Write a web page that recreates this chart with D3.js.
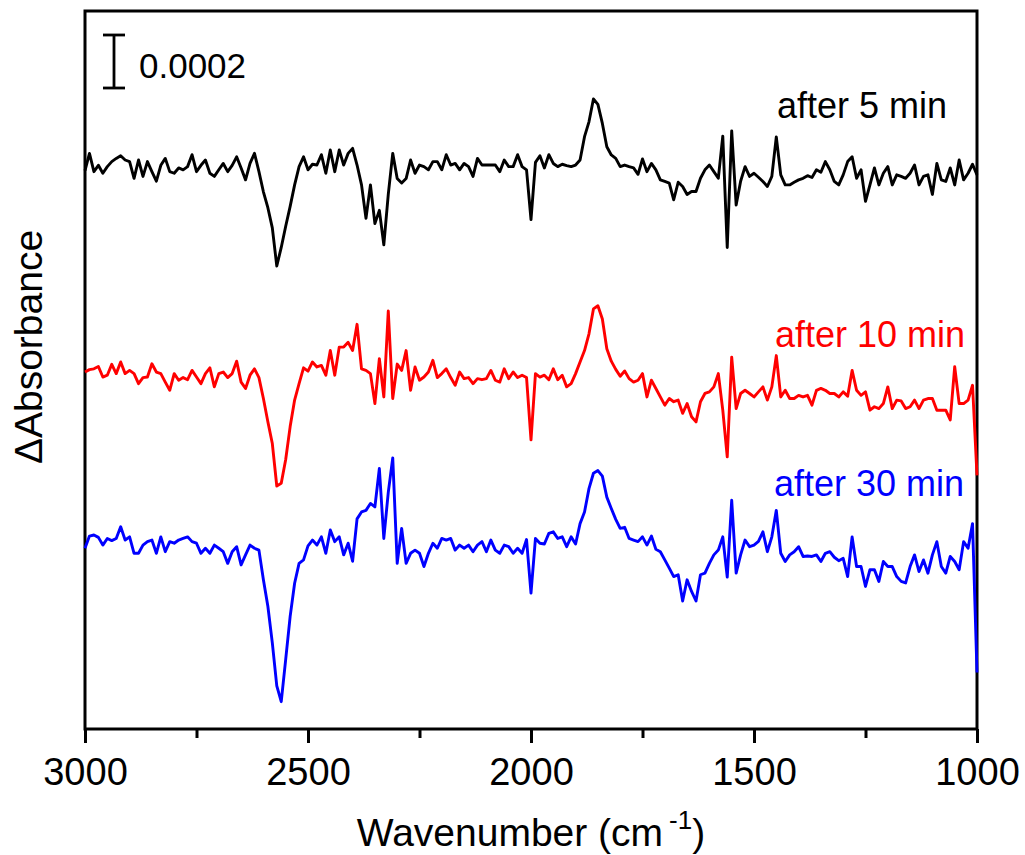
<!DOCTYPE html>
<html>
<head>
<meta charset="utf-8">
<script src="https://cdn.jsdelivr.net/npm/d3@7"></script>
<style>
  body { margin: 0; background: #fff; }
  svg { display: block; }
  text { font-family: "Liberation Sans", Arial, sans-serif; fill: #000; }
</style>
</head>
<body>
<div id="chart"></div>
<script>
// sampling grid of the spectra (cm-1), high to low
const wavenumbers = d3.range(3000, 999, -10);

// ΔA x 1e5, one value per wavenumber
const after5 = [
  -1, 5.5, -1.4, 1, -2, 0.5, 2.4, 3.6, 4.6, 3, 2.4, -3.9, 3, -3.2, 2.4, -1.4, -5, 1, 3.6, -1.4,
  -2, 0, -0.7, 0.5, 5, -1.4, 1, 3, -2, -3.2, -0.7, 1.7, -1.4, 1, 4.2, 0, -4.5, 1.7, 5.5, -1.4,
  -9, -15, -22.6, -37, -30, -22, -14.5, -6.4, 0.5, 4.2, -0.7, 1.4, 1.1, 5, -2, 6.8, -1.4, 6.8, 1.1, 5.5,
  7.4, 1.1, -6.4, -19, -6.4, -21, -16, -29, -10, 5.5, -4, -5.7, -4, 3, -2, 1.1, 0.5, -0.7, 2.4, 2.4,
  -0.7, 5, 1.1, 1.7, -0.7, 1.7, 0.5, -3.2, 3.6, 1.1, 1.1, 1.1, 1.1, -1.4, 3, 0.5, 0.5, 5, 0.5, -0.7,
  -19.5, 2.1, 4.6, 0, 5, 1.7, 0.5, 1.4, 0.9, 0.5, 1.1, 3, 11.8, 17.4, 26, 24, 16.8, 8, 4.9, 3.6,
  0.5, 1.1, 0.5, 0, -2.4, 3.4, -1.4, 1.7, -0.7, -4.5, -5.1, -5.7, -12, -5.4, -7, -10, -8.9, -8.9, -3.9, -0.7,
  1.1, -1.4, -3.9, 12, -30, 14, -14, -5, 0.5, -3.2, -2, -3.5, -5.1, -7, -3.2, 11.7, -2.6, -6.4, -6.4, -5.4,
  -4.5, -3.9, -2.9, -3.6, -0.7, -1.6, 2.4, -0.7, -5.1, -6.4, -2.6, 2.4, 4.2, -3.9, -0.7, -12.6, -6.4, 0, -6.4, -2,
  0.5, -6.4, -2.6, -3.2, -3.9, -2, 1.1, -6.4, -3.2, -2.6, -10, 1.7, -4.5, -5.1, 0, -6.4, 3, -4.5, -2, 1.4,
  -2.6
];

const after10 = [
  0, 0.9, 1.2, 2.1, -1.9, -1.2, 2.9, -0.6, 3.8, -0.6, 0.6, -0.6, -4.4, -2.1, -1.9, 3.1, 0, -0.6, -3.8, -6.9,
  -0.6, -3.1, -2.1, -2.9, 0.6, -1.9, -4.4, -0.6, 1.6, -5.6, -0.6, 0, -2.1, -0.6, 4.1, -3.8, -6.2, -1.2, 1.2, -2.1,
  -10, -18.8, -27, -43, -42, -33, -20.6, -10.6, -4.4, 1.6, 0.3, 3.8, 1.9, 2.5, -1.2, 8.1, -1.2, 9.4, 9.4, 11.2,
  8.1, 18, 1.2, 0.6, -0.6, -11.9, 5, -9.4, 23, -10, 3, 0.6, 8.1, -6.9, 1.9, -3.1, -1.9, 0, 4.4, -2.1,
  -0.6, 1.2, -2.1, -5, 0, -2.5, -2.1, -4.4, -2.5, -2.9, -2.5, 0.6, -3.1, -3.8, 1.2, -2.5, 0, -2.1, -1.2, -2.1,
  -25.6, -0.6, -1.9, -1.2, -2.9, 1.2, -2.9, -1.2, -5.6, -4.4, -0.6, 3.8, 8.1, 14.4, 23.8, 25, 20, 8.8, 4.1, 1,
  -1.6, 0.4, -2.5, -3.8, -3.1, -0.6, -9.4, -3.1, -6.2, -9.4, -12.5, -10, -11.2, -10.6, -15.6, -11.9, -16.9, -18.8, -11.2, -8.1,
  -7.5, -5.6, -0.6, -14.4, -32, 5.6, -13.8, -8.1, -6.9, -8.1, -9.4, -7.5, -5.6, -10.6, -5.6, 6.2, -9.4, -6.9, -10, -10,
  -8.8, -9.4, -8.8, -12.5, -6.9, -6.2, -6.9, -8.1, -8.1, -9.4, -7.5, -9.1, 0.6, -6.9, -8.8, -7.5, -14.4, -13.1, -13.8, -11.9,
  -5.6, -13.8, -10.6, -10.9, -13.8, -13.1, -10.6, -13.8, -10.6, -10, -10, -14.4, -14.4, -14.4, -18.1, 2, -11.9, -11.9, -10.6, -5,
  -39
];

const after30 = [
  -3.1, 1.5, 1.9, 1, -1.9, 0.6, -0.2, 0.6, 5, 0, 1.2, -5, -5, -1.9, -0.6, 0, -5, 1.2, -4.4, -0.6,
  -1.2, 0, 0.6, 1.2, -0.6, -1.2, -5, -3.1, -5, -1.9, -3.1, -4.4, -8.8, -4.4, -2.5, -9.4, -5.6, -1.9, -3.1, -3.8,
  -15, -25, -38.8, -55, -61, -45, -28.8, -16.3, -8.8, -7.5, -2.2, 0, -1.9, 1.2, -5, 3.8, -0.6, 1.2, -5.6, -1.2,
  -8, 8, 10.6, 11.2, 13.8, 12.5, 27, 0.6, 18, 31, -8.8, 4.4, -8.8, -5, -3.8, -5, -10, -5, -1.2, -3.1,
  0.6, 0, 0.6, -3.8, -1.9, -3.1, -1.9, -4.4, -1.9, -0.6, -4.4, 0, -3.8, -5, -1.9, -2.5, -5, -3.1, -5, 0.2,
  -20, 0.6, -1.2, -1.5, 2.5, 3.1, 0.6, 1.2, -2.5, 1.2, -1.5, 6.2, 10.6, 19.4, 25.2, 26.2, 24.1, 16.2, 11.9, 7.8,
  4.4, 4.8, 0.6, 0, -0.6, 1.2, -1.9, 1.5, -3.5, -4.4, -7.5, -10.6, -13.8, -13.1, -23, -15, -19.4, -23, -13.1, -12.5,
  -8.8, -5.6, -3.8, 1.2, -14, 15, -12.5, -5.6, 0, -2.5, -1.9, -0.5, 3.1, -4.4, 1.2, 11.2, -5, -8.1, -5.6, -4.4,
  -2.5, -6.2, -6, -6.2, -5.6, -8.1, -5, -4.4, -6.5, -7.8, -6.9, -13.8, 1.2, -10, -10, -17.5, -11.2, -11.2, -15.6, -8.1,
  -10, -10, -13.8, -15.6, -16.2, -10, -5.6, -11.9, -7.5, -12.5, -5.6, -0.6, -10, -12.5, -6.2, -8.1, -11.2, -0.6, -3.1, 6.2,
  -50
];

const seriesNames = ['after 5 min', 'after 10 min', 'after 30 min'];
const seriesColors = ['#000000', '#ff0000', '#0000ff'];
const seriesOffsets = [211.7, 134.7, 71.3]; // stacking offsets, ΔA x 1e5
const xMajorTicks = [3000, 2500, 2000, 1500, 1000];
const xMinorTicks = [2750, 2250, 1750, 1250];
const scaleBarValue = 0.0002;

const width = 1025;
const height = 855;
const margin = { top: 11, right: 48, bottom: 126, left: 85 };

const svg = d3.select('#chart')
    .append('svg')
    .attr('width', width)
    .attr('height', height);

const x = d3.scaleLinear()
    .domain([3000, 1000])
    .range([margin.left, width - margin.right]);

const y = d3.scaleLinear()
    .domain([0, 0.002713])
    .range([height - margin.bottom, 10]);

// frame
svg.append('rect')
    .attr('x', margin.left)
    .attr('y', margin.top)
    .attr('width', width - margin.left - margin.right)
    .attr('height', height - margin.top - margin.bottom)
    .attr('fill', 'none')
    .attr('stroke', '#000')
    .attr('stroke-width', 3);

// bottom axis, major + minor ticks
const xAxis = svg.append('g')
    .attr('transform', `translate(0,${height - margin.bottom})`)
    .call(d3.axisBottom(x).tickValues(xMajorTicks).tickFormat(d3.format('d')).tickSize(14).tickSizeOuter(0).tickPadding(15));
xAxis.select('.domain').remove();
xAxis.selectAll('.tick line').attr('stroke-width', 3);
xAxis.selectAll('.tick text')
    .attr('font-size', 38)
    .attr('font-family', '"Liberation Sans", Arial, sans-serif');

const xMinor = svg.append('g')
    .attr('transform', `translate(0,${height - margin.bottom})`)
    .call(d3.axisBottom(x).tickValues(xMinorTicks).tickFormat('').tickSize(9).tickSizeOuter(0));
xMinor.select('.domain').remove();
xMinor.selectAll('.tick line').attr('stroke-width', 3);

// spectra
const allSeries = [after5, after10, after30];
allSeries.forEach((values, k) => {
    const line = d3.line()
        .x((d, i) => x(wavenumbers[i]))
        .y((d) => y((d + seriesOffsets[k]) * 1e-5));
    svg.append('path')
        .datum(values)
        .attr('d', line)
        .attr('fill', 'none')
        .attr('stroke', seriesColors[k])
        .attr('stroke-width', 2.9)
        .attr('stroke-linejoin', 'round');
});

// series labels
const labelPos = [[947, 118], [965, 347], [964, 496]];
seriesNames.forEach((name, k) => {
    svg.append('text')
        .attr('x', labelPos[k][0])
        .attr('y', labelPos[k][1])
        .attr('text-anchor', 'end')
        .attr('font-size', 36)
        .style('fill', seriesColors[k])
        .text(name);
});

// scale bar
const barX = 114;
const barTop = 35;
const barLen = y(0) - y(scaleBarValue);
const bar = svg.append('g').attr('stroke', '#000').attr('stroke-width', 2.8);
bar.append('line').attr('x1', barX).attr('x2', barX).attr('y1', barTop).attr('y2', barTop + barLen);
bar.append('line').attr('x1', barX - 11).attr('x2', barX + 11).attr('y1', barTop).attr('y2', barTop);
bar.append('line').attr('x1', barX - 11).attr('x2', barX + 11).attr('y1', barTop + barLen).attr('y2', barTop + barLen);
svg.append('text')
    .attr('x', 139)
    .attr('y', 78)
    .attr('font-size', 35)
    .text(String(scaleBarValue));

// axis titles
const xTitle = svg.append('text')
    .attr('x', (margin.left + width - margin.right) / 2)
    .attr('y', 846)
    .attr('text-anchor', 'middle')
    .attr('font-size', 39);
xTitle.append('tspan').text('Wavenumber (cm');
xTitle.append('tspan').attr('font-size', 26).attr('dy', -17).attr('dx', 6).text('-1');
xTitle.append('tspan').attr('dy', 17).text(')');

svg.append('text')
    .attr('transform', `translate(42,347) rotate(-90)`)
    .attr('text-anchor', 'middle')
    .attr('font-size', 39)
    .text('ΔAbsorbance');
</script>
</body>
</html>
